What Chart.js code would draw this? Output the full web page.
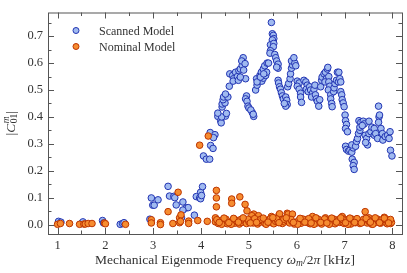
<!DOCTYPE html>
<html>
<head>
<meta charset="utf-8">
<script src="https://cdn.jsdelivr.net/npm/chart.js@4.4.1/dist/chart.umd.min.js"></script>
<style>
  html, body { margin: 0; padding: 0; background: #fff; }
  #wrap { width: 407px; height: 273px; }
</style>
</head>
<body>
<div id="wrap"><canvas id="chart"></canvas></div>
<script>
// axis ranges + ticks
const xRange = [0.8, 8.2];
const yRange = [-0.035, 0.788];
const xTicks = [1, 2, 3, 4, 5, 6, 7, 8];
const yTicks = [0.0, 0.1, 0.2, 0.3, 0.4, 0.5, 0.6, 0.7];

// Scanned model (frequency kHz, |C01|)
const scannedFreq = [
  1.02, 1.07, 1.50, 1.53, 1.94, 1.96, 2.31, 2.36, 2.39,
  2.96, 3.10, 2.99, 3.02, 2.93, 3.31, 3.34, 3.43, 3.45, 3.48, 3.62, 3.69, 3.73, 3.62, 3.59, 3.86,
  3.90, 3.97, 3.99, 3.99, 4.03, 4.01, 4.05, 4.11, 4.18, 4.20, 4.25, 4.19, 4.29, 4.26,
  4.35, 4.41, 4.42, 4.51, 4.43, 4.35, 4.44, 4.44, 4.53, 4.50, 4.46, 4.47, 4.56, 4.51, 4.59,
  4.60, 4.66, 4.68, 4.67, 4.72, 4.76, 4.79, 4.82, 4.86, 4.88, 4.85, 4.92, 4.78, 4.93, 4.89, 4.82,
  4.95, 4.93, 4.96, 4.98, 5.00, 5.07, 5.10, 5.04, 5.09,
  5.14, 5.17, 5.21, 5.16, 5.23, 5.26, 5.30, 5.33, 5.38, 5.41, 5.27, 5.30, 5.17, 5.35, 5.37, 5.24, 5.31,
  5.47, 5.49, 5.51, 5.52, 5.49, 5.45, 5.52, 5.51, 5.45, 5.44, 5.54, 5.56, 5.58, 5.61, 5.61, 5.58,
  5.61, 5.62, 5.64, 5.66, 5.68, 5.70, 5.72, 5.77, 5.79, 5.80, 5.77, 5.74, 5.81, 5.83,
  5.86, 5.87, 5.89, 5.91, 5.89, 5.96, 5.94, 5.98,
  6.01, 6.05, 6.01, 6.05, 6.08, 6.08, 6.10, 6.15, 6.19, 6.22, 6.20, 6.24, 6.27, 6.29, 6.33, 6.31,
  6.36, 6.38, 6.39, 6.41, 6.43, 6.46, 6.48, 6.50, 6.52, 6.53, 6.57, 6.60, 6.64, 6.65, 6.62, 6.59,
  6.67, 6.67, 6.69, 6.66, 6.71, 6.71, 6.73, 6.74, 6.77, 6.78, 6.80, 6.83, 6.85, 6.88, 6.87, 6.90,
  6.92, 6.92, 6.94, 6.95, 6.97, 6.99, 7.01,
  7.02, 7.04, 7.02, 7.06, 7.02, 7.04, 7.08, 7.11, 7.15, 7.18, 7.15, 7.16, 7.20, 7.18, 7.20,
  7.23, 7.25, 7.27, 7.29, 7.32, 7.32, 7.30, 7.34, 7.39, 7.41, 7.37, 7.43, 7.46, 7.48, 7.44,
  7.51, 7.55, 7.51, 7.57, 7.62, 7.62, 7.65, 7.69, 7.72, 7.71, 7.76, 7.79, 7.80, 7.85, 7.90,
  7.93, 7.95, 7.96, 7.99, 7.71, 7.73
];
const scannedAmp = [
  0.012, 0.009, 0.004, 0.010, 0.015, 0.006, 0.001, 0.004, 0.007,
  0.099, 0.092, 0.072, 0.072, 0.020, 0.142, 0.106, 0.105, 0.100, 0.073, 0.084, 0.062, 0.063, 0.054, 0.025, 0.035,
  0.104, 0.099, 0.096, 0.120, 0.141, 0.108, 0.255, 0.243, 0.243, 0.294, 0.283, 0.342, 0.334, 0.323,
  0.402, 0.386, 0.378, 0.403, 0.400, 0.414, 0.437, 0.448, 0.413, 0.452, 0.464, 0.474, 0.474, 0.485, 0.514,
  0.560, 0.554, 0.542, 0.533, 0.566, 0.550, 0.572, 0.578, 0.592, 0.620, 0.608, 0.598, 0.536, 0.542, 0.574, 0.548,
  0.478, 0.467, 0.458, 0.440, 0.433, 0.416, 0.402, 0.426, 0.410,
  0.500, 0.518, 0.532, 0.542, 0.554, 0.566, 0.578, 0.590, 0.600, 0.600, 0.533, 0.544, 0.530, 0.554, 0.566, 0.548, 0.560,
  0.751, 0.709, 0.703, 0.691, 0.686, 0.668, 0.673, 0.661, 0.646, 0.637, 0.632, 0.620, 0.608, 0.596, 0.581, 0.585,
  0.536, 0.526, 0.512, 0.503, 0.490, 0.478, 0.467, 0.474, 0.462, 0.446, 0.440, 0.450, 0.512, 0.524,
  0.542, 0.560, 0.581, 0.593, 0.608, 0.600, 0.620, 0.590,
  0.533, 0.526, 0.514, 0.503, 0.488, 0.474, 0.454, 0.536, 0.530, 0.518, 0.503, 0.494, 0.512, 0.500, 0.488, 0.474,
  0.503, 0.518, 0.482, 0.467, 0.458, 0.440, 0.464, 0.512, 0.536, 0.548, 0.560, 0.566, 0.578, 0.584, 0.542, 0.530,
  0.550, 0.530, 0.514, 0.500, 0.482, 0.467, 0.450, 0.438, 0.494, 0.508, 0.524, 0.536, 0.566, 0.566, 0.530, 0.542,
  0.530, 0.494, 0.482, 0.464, 0.452, 0.438, 0.407,
  0.386, 0.372, 0.357, 0.345, 0.291, 0.279, 0.273, 0.276, 0.269, 0.285, 0.296, 0.243, 0.231, 0.219, 0.205,
  0.291, 0.309, 0.320, 0.338, 0.350, 0.362, 0.386, 0.380, 0.384, 0.374, 0.368, 0.332, 0.320, 0.296, 0.305,
  0.338, 0.345, 0.384, 0.362, 0.357, 0.332, 0.338, 0.320, 0.400, 0.380, 0.357, 0.338, 0.314, 0.327, 0.332,
  0.320, 0.345, 0.276, 0.255, 0.440, 0.407
];

// Nominal model
const nominalFreq = [
  1.00, 1.06, 1.25, 1.46, 1.55, 1.58, 1.64, 1.72, 1.98, 2.00, 2.42,
  2.96, 2.96, 3.15, 3.15, 3.31, 3.41, 3.52, 3.55, 3.58, 3.55, 3.57, 3.74, 3.74, 3.93, 3.97,
  4.13, 4.15, 4.32, 4.32, 4.32, 4.30, 4.64, 4.64, 4.81, 4.92, 4.96, 5.10, 5.06, 5.20, 5.47,
  5.63, 5.64, 5.80, 5.82, 5.91, 6.33, 6.60, 6.95, 7.00, 7.43, 7.51, 7.83, 7.96,
  4.30, 4.36, 4.40, 4.45, 4.50, 4.55, 4.60, 4.66, 4.70, 4.75, 4.80, 4.85, 4.90, 4.95, 5.00,
  5.05, 5.09, 5.14, 5.18, 5.23, 5.28, 5.33, 5.38, 5.42, 5.47, 5.52, 5.56, 5.61, 5.66, 5.70,
  5.75, 5.80, 5.85, 5.90, 5.95, 6.00, 6.04, 6.09, 6.14, 6.19, 6.23, 6.28, 6.33, 6.38, 6.42,
  6.47, 6.52, 6.56, 6.61, 6.66, 6.71, 6.75, 6.80, 6.85, 6.90, 6.94, 6.99, 7.04, 7.09, 7.13,
  7.18, 7.23, 7.28, 7.32, 7.37, 7.42, 7.47, 7.51, 7.56, 7.61, 7.66, 7.70, 7.75, 7.80, 7.85,
  7.89, 7.94, 7.98,
  4.33, 4.43, 4.52, 4.63, 4.72, 4.83, 4.98, 5.12, 5.25, 5.36, 5.45, 5.58, 5.73, 5.88, 6.02,
  6.12, 6.25, 6.36, 6.45, 6.58, 6.68, 6.78, 6.88, 6.97, 7.07, 7.16, 7.26, 7.40, 7.49, 7.59,
  7.68, 7.78, 7.87, 7.96,
  4.38, 4.48, 4.58, 4.68, 4.78, 4.88, 5.03, 5.16, 5.30, 5.40, 5.50, 5.63, 5.78, 5.93, 6.07,
  6.17, 6.30, 6.40, 6.50, 6.63, 6.73, 6.83, 6.92, 7.02, 7.11, 7.21, 7.35, 7.45, 7.54, 7.64,
  7.73, 7.83, 7.92
];
const nominalAmp = [
  0.001, 0.004, 0.004, 0.001, 0.002, 0.002, 0.004, 0.004, 0.006, 0.003, 0.001,
  0.018, 0.006, 0.007, 0.000, 0.048, 0.004, 0.120, 0.025, 0.036, 0.007, 0.012, 0.013, 0.004, 0.015, 0.295,
  0.012, 0.329, 0.127, 0.099, 0.066, 0.025, 0.095, 0.079, 0.103, 0.075, 0.051, 0.039, 0.033, 0.033, 0.030,
  0.036, 0.040, 0.042, 0.039, 0.039, 0.030, 0.025, 0.030, 0.020, 0.048, 0.025, 0.027, 0.004,
  0.010, 0.004, 0.015, 0.006, 0.012, 0.003, 0.009, 0.014, 0.005, 0.011, 0.002, 0.008, 0.013, 0.004, 0.010,
  0.016, 0.006, 0.012, 0.002, 0.009, 0.014, 0.005, 0.011, 0.018, 0.007, 0.003, 0.012, 0.008, 0.016, 0.004,
  0.010, 0.014, 0.006, 0.011, 0.002, 0.009, 0.015, 0.005, 0.012, 0.018, 0.007, 0.003, 0.011, 0.016, 0.006,
  0.010, 0.002, 0.013, 0.008, 0.017, 0.005, 0.011, 0.003, 0.014, 0.008, 0.012, 0.004, 0.016, 0.009, 0.002,
  0.012, 0.007, 0.015, 0.004, 0.010, 0.013, 0.006, 0.011, 0.002, 0.014, 0.008, 0.017, 0.005, 0.012, 0.009,
  0.003, 0.015, 0.008,
  0.018, 0.001, 0.020, 0.001, 0.017, 0.019, 0.020, 0.022, 0.020, 0.001, 0.022, 0.021, 0.020, 0.019, 0.001,
  0.021, 0.022, 0.001, 0.020, 0.021, 0.001, 0.020, 0.019, 0.018, 0.001, 0.020, 0.022, 0.020, 0.019, 0.001,
  0.021, 0.018, 0.020, 0.019,
  0.008, 0.024, 0.007, 0.023, 0.009, 0.025, 0.006, 0.008, 0.024, 0.009, 0.026, 0.007, 0.025, 0.008, 0.023,
  0.009, 0.006, 0.025, 0.008, 0.006, 0.024, 0.009, 0.025, 0.007, 0.024, 0.008, 0.006, 0.023, 0.009, 0.025,
  0.007, 0.024, 0.006
];

const SCAN_FILL = 'rgb(160,186,240)';
const SCAN_EDGE = 'rgb(34,52,178)';
const NOM_FILL  = 'rgb(246,140,48)';
const NOM_EDGE  = 'rgb(188,52,0)';
const AXIS      = '#555';
const TEXT      = '#333';
const SERIF     = '"Liberation Serif", "DejaVu Serif", serif';

const toPts = (xs, ys) => xs.map((v, i) => ({ x: v, y: ys[i] }));

// draw a run of text pieces (for the math labels), centred on (cx, cy)
function drawRich(ctx, parts, cx, cy) {
  let w = 0;
  parts.forEach(p => { ctx.font = p.font; w += ctx.measureText(p.t).width + (p.gap || 0); });
  let xx = cx - w / 2;
  ctx.textBaseline = 'middle';
  ctx.textAlign = 'left';
  parts.forEach(p => {
    ctx.font = p.font;
    ctx.fillText(p.t, xx, cy + (p.dy || 0));
    xx += ctx.measureText(p.t).width + (p.gap || 0);
  });
}

const deco = {
  id: 'deco',
  afterDraw(chart) {
    const { ctx, chartArea: a, scales: { x, y } } = chart;
    ctx.save();
    ctx.strokeStyle = AXIS;
    ctx.lineWidth = 1;
    ctx.strokeRect(a.left + 0.5, a.top + 0.5, a.right - a.left, a.bottom - a.top);

    // inward ticks on all four sides, minors halfway
    const MAJ = 6, MIN = 3.5;
    const xMinor = xTicks.map(v => v - 0.5).concat([xTicks[xTicks.length - 1] + 0.5])
      .filter(v => v > xRange[0] && v < xRange[1]);
    const yMinor = yTicks.map(v => v + 0.05).concat([yTicks[0] - 0.05])
      .filter(v => v > yRange[0] && v < yRange[1]);
    ctx.beginPath();
    const xt = (v, len) => {
      const p = Math.round(x.getPixelForValue(v)) + 0.5;
      ctx.moveTo(p, a.bottom); ctx.lineTo(p, a.bottom - len);
      ctx.moveTo(p, a.top); ctx.lineTo(p, a.top + len);
    };
    const yt = (v, len) => {
      const p = Math.round(y.getPixelForValue(v)) + 0.5;
      ctx.moveTo(a.left, p); ctx.lineTo(a.left + len, p);
      ctx.moveTo(a.right, p); ctx.lineTo(a.right - len, p);
    };
    xTicks.forEach(v => xt(v, MAJ));
    xMinor.forEach(v => xt(v, MIN));
    yTicks.forEach(v => yt(v, MAJ));
    yMinor.forEach(v => yt(v, MIN));
    ctx.stroke();

    // legend
    const items = [
      { label: 'Scanned Model', fill: SCAN_FILL, edge: SCAN_EDGE },
      { label: 'Nominal Model', fill: NOM_FILL, edge: NOM_EDGE }
    ];
    items.forEach((it, i) => {
      const ly = a.top + 18 + i * 16;
      ctx.beginPath();
      ctx.arc(a.left + 28, ly, 3, 0, Math.PI * 2);
      ctx.fillStyle = it.fill; ctx.fill();
      ctx.strokeStyle = it.edge; ctx.stroke();
      ctx.fillStyle = TEXT;
      ctx.font = '12px ' + SERIF;
      ctx.textAlign = 'left';
      ctx.textBaseline = 'middle';
      ctx.fillText(it.label, a.left + 51, ly + 1);
    });

    // x title
    ctx.fillStyle = TEXT;
    const f = '13.5px ' + SERIF, fi = 'italic 13.5px ' + SERIF, fs = 'italic 9.5px ' + SERIF;
    drawRich(ctx, [
      { t: 'Mechanical Eigenmode Frequency ', font: f },
      { t: 'ω', font: fi },
      { t: 'm', font: fs, dy: 3 },
      { t: '/2', font: f },
      { t: 'π', font: fi },
      { t: ' [kHz]', font: f }
    ], (a.left + a.right) / 2, 260);

    // y title
    ctx.translate(11, (a.top + a.bottom) / 2);
    ctx.rotate(-Math.PI / 2);
    drawRich(ctx, [
      { t: '|', font: f },
      { t: 'C', font: fi, gap: 0.5 },
      { t: 'm', font: fs, dy: -5, gap: -7 },
      { t: '01', font: '9.5px ' + SERIF, dy: 3.5 },
      { t: '|', font: f }
    ], 0, 0);
    ctx.restore();
  }
};

new Chart(document.getElementById('chart'), {
  type: 'scatter',
  data: {
    datasets: [
      {
        label: 'Nominal Model',
        data: toPts(nominalFreq, nominalAmp),
        backgroundColor: NOM_FILL,
        borderColor: NOM_EDGE,
        order: 0
      },
      {
        label: 'Scanned Model',
        data: toPts(scannedFreq, scannedAmp),
        backgroundColor: SCAN_FILL,
        borderColor: SCAN_EDGE,
        order: 1
      }
    ]
  },
  options: {
    responsive: true,
    maintainAspectRatio: false,
    animation: false,
    elements: { point: { radius: 3.3, borderWidth: 1, hoverRadius: 3.3 } },
    layout: { padding: { top: 5, right: 5, left: 0, bottom: 0 } },
    plugins: { legend: { display: false }, tooltip: { enabled: false } },
    scales: {
      x: {
        type: 'linear',
        min: xRange[0],
        max: xRange[1],
        afterBuildTicks: s => { s.ticks = xTicks.map(v => ({ value: v })); },
        afterFit: s => { s.height = 39; },
        ticks: { color: TEXT, font: { family: SERIF, size: 12.5 }, padding: 4, maxRotation: 0, callback: v => String(v) },
        grid: { display: false, drawTicks: false },
        border: { display: false }
      },
      y: {
        type: 'linear',
        min: yRange[0],
        max: yRange[1],
        afterBuildTicks: s => { s.ticks = yTicks.map(v => ({ value: v })); },
        afterFit: s => { s.width = 48; },
        ticks: { color: TEXT, font: { family: SERIF, size: 12.5 }, padding: 5, callback: v => v.toFixed(1) },
        grid: { display: false, drawTicks: false },
        border: { display: false }
      }
    }
  },
  plugins: [deco]
});
</script>
</body>
</html>
